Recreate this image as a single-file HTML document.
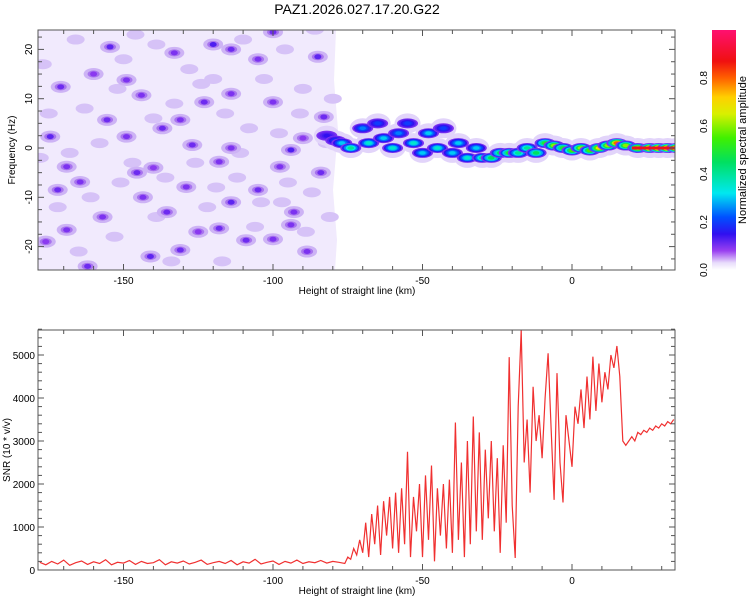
<!DOCTYPE html>
<html><head><meta charset="utf-8"><style>
body{margin:0;background:#fff;width:750px;height:600px;overflow:hidden;font-family:"Liberation Sans",sans-serif}
svg text{font-family:"Liberation Sans",sans-serif;fill:#000}
</style></head><body>
<svg id="c" width="750" height="600" xmlns="http://www.w3.org/2000/svg">
<text x="357" y="14" font-size="14" text-anchor="middle">PAZ1.2026.027.17.20.G22</text>
<defs>
<linearGradient id="cb" x1="0" y1="1" x2="0" y2="0">
<stop offset="0" stop-color="#ffffff"/><stop offset="0.03" stop-color="#e8dcfb"/><stop offset="0.08" stop-color="#9a40f0"/>
<stop offset="0.15" stop-color="#3010f0"/><stop offset="0.22" stop-color="#0050ff"/><stop offset="0.32" stop-color="#00e8f0"/>
<stop offset="0.45" stop-color="#00e060"/><stop offset="0.55" stop-color="#40f000"/><stop offset="0.65" stop-color="#d8f000"/>
<stop offset="0.72" stop-color="#ffd000"/><stop offset="0.8" stop-color="#ff6000"/><stop offset="0.87" stop-color="#f01010"/>
<stop offset="1" stop-color="#ff1070"/></linearGradient>
<clipPath id="topclip"><rect x="38" y="30" width="637" height="240"/></clipPath>
<clipPath id="botclip"><rect x="38" y="330" width="637" height="240"/></clipPath>
</defs>
<g id="topg" clip-path="url(#topclip)"></g>
<g id="botg" clip-path="url(#botclip)"></g>
<g id="axes"></g>
<rect x="712" y="30" width="24" height="240" fill="url(#cb)"/>
<text transform="translate(746,150) rotate(-90)" font-size="11" text-anchor="middle">Normalized spectral amplitude</text>
</svg>
<script>
const snrBaseX=[-178,-176,-174,-172,-170,-168,-166,-164,-162,-160,-158,-156,-154,-152,-150,-148,-146,-144,-142,-140,-138,-136,-134,-132,-130,-128,-126,-124,-122,-120,-118,-116,-114,-112,-110,-108,-106,-104,-102,-100,-98,-96,-94,-92,-90,-88,-86,-84,-82,-80,-78];
const snrBaseV=[180,120,200,140,230,110,170,210,130,190,150,240,120,180,160,220,130,200,150,170,240,120,190,160,210,140,180,230,130,170,200,150,220,120,190,160,250,140,180,210,130,200,160,230,150,190,170,220,160,200,180];
const snrStart=-76;
const snrVals=[150,300,250,500,350,700,
400,1100,300,1300,600,1500,350,1600,800,1700,
500,1800,400,1900,600,2750,300,1700,900,2000,
300,2200,700,2430,200,1900,800,2000,500,2100,
400,3430,700,2500,300,3000,600,3570,900,3200,
700,2800,1200,3000,900,2600,400,2900,1100,4950,
1500,280,3800,5580,2500,3500,1800,4260,3000,3600,
2600,4000,5040,3300,1630,4580,2500,1570,3600,3000,
2400,3800,3400,4200,3300,4500,3500,4960,3700,4800,
3900,4600,4200,5000,4700,5210,4500,3000,2900,3000,
3100,3000,3200,3150,3250,3200,3300,3250,3350,3300,
3400,3350,3450,3400,3500];
const noiseX=[-154.5,-120,-114,-85,-105,-171,-144,-123,-114,-100,-155.5,-174.5,-149,-137,-131,-127,-114,-94,-83,-169,-145.5,-118,-97.7,-84,-172,-164.5,-143.5,-129,-105,-114,-157,-135.5,-118,-94,-93,-169,-109,-100,-141,-131,-88.6,-162,-100,-149,-133,-160,-125,-90,-176,-140];
const noiseF=[20.5,21,20,18.5,18,12.4,10.7,9.3,11,9.3,5.7,2.3,2.3,4,5.7,0.6,0,-0.4,6.3,-3.8,-5,-2.8,-3.8,-5,-8.5,-6.9,-10,-7.9,-8.5,-11,-14,-13,-16.3,-15.6,-13,-16.6,-18.7,-18.5,-22,-20.7,-21,-24,23.5,13.8,19.3,15,-17,2,-19,-4];
const noiseA=[0.14,0.15,0.13,0.14,0.12,0.13,0.12,0.13,0.12,0.12,0.13,0.14,0.12,0.13,0.12,0.13,0.12,0.15,0.13,0.12,0.13,0.12,0.12,0.13,0.13,0.12,0.12,0.12,0.13,0.14,0.12,0.13,0.13,0.12,0.12,0.12,0.13,0.12,0.14,0.13,0.12,0.13,0.13,0.12,0.12,0.11,0.11,0.11,0.11,0.11];
const midX=[-177,-166,-160,-150,-146,-139,-128,-120,-110,-103,-96,-90,-86,-80,-175,-163,-152,-140,-133,-124,-116,-108,-98,-91,-82,-178,-168,-158,-147,-136,-126,-119,-111,-104,-95,-87,-172,-161,-151,-139,-122,-112,-106,-97,-89,-81,-165,-153,-134,-117];
const midF=[17,22,15,18,23,21,16,14,22,14,20,12,24,10,7,8,12,6,9,13,7,4,3,7,1,-2,-1,1,-3,-6,-3,-8,-1,-11,-7,-9,-12,-10,-7,-14,-12,-6,-16,-11,-17,-14,-21,-18,-23,-23];
const sigX=[-82,-79,-77,-74,-70,-68,-65,-63,-60,-58,-55,-53,-50,-48,-45,-43,-40,-38,-35,-32,-30,-27,-24,-21,-18,-15,-12,-9,-6,-3,0,3,6,9,12,15,18,22,26,29,32,35];
const sigF=[2.5,1.5,1,0,4,1,5,2,0,3,5,1,-1,3,0,4,-1,1,-2,0,-2,-2,-1,-1,-1,0,-1,1,0.5,0,-0.5,0,-0.5,0,0.5,1,0.5,0,0,0,0,0];
const sigA=[0.15,0.2,0.3,0.4,0.25,0.35,0.2,0.3,0.35,0.25,0.2,0.35,0.3,0.3,0.35,0.2,0.3,0.3,0.35,0.3,0.4,0.45,0.45,0.5,0.4,0.4,0.45,0.5,0.6,0.5,0.55,0.6,0.55,0.7,0.6,0.8,0.6,0.7,0.85,0.9,0.9,0.9];
const xTicks=[-150,-100,-50,0];
const fTicks=[-20,-10,0,10,20];
const snrTicks=[0,1000,2000,3000,4000,5000];
const cbTicks=[0.0,0.2,0.4,0.6,0.8];

const NS='http://www.w3.org/2000/svg';
const X0=38,X1=675;
const xs=v=>572+(v)*2.99;
const fy=f=>148-f*4.93;
const sy=v=>570-v*0.043;
const cy=a=>270-a*240;
function el(tag,attrs,parent){const e=document.createElementNS(NS,tag);for(const k in attrs)e.setAttribute(k,attrs[k]);parent.appendChild(e);return e;}
const stops=[[0,[255,255,255]],[0.03,[232,220,251]],[0.08,[154,64,240]],[0.15,[48,16,240]],[0.22,[0,80,255]],[0.32,[0,232,240]],[0.45,[0,224,96]],[0.55,[64,240,0]],[0.65,[216,240,0]],[0.72,[255,208,0]],[0.8,[255,96,0]],[0.87,[240,16,16]],[1,[255,16,112]]];
function cmap(a){for(let i=1;i<stops.length;i++){if(a<=stops[i][0]){const[t0,c0]=stops[i-1],[t1,c1]=stops[i];const t=(a-t0)/(t1-t0);return 'rgb('+c0.map((c,j)=>Math.round(c+(c1[j]-c)*t)).join(',')+')';}}return 'rgb(255,16,112)';}

const topG=document.getElementById('topg');
const bg=el('path',{d:'M38,30 L336,30 L334,80 L338,130 L333,190 L337,240 L335,270 L38,270 Z',fill:'#f1eafd'},topG);


for(let i=0;i<midX.length;i++){
  const m=el('ellipse',{cx:xs(midX[i]),cy:fy(midF[i]),rx:9,ry:5,fill:'#d6c2f7'},topG);
  
  
}
for(let i=0;i<noiseX.length;i++){
  const g=el('g',{},topG);
  
  
  el('ellipse',{cx:xs(noiseX[i]),cy:fy(noiseF[i]),rx:10,ry:6,fill:'#cdb3f5'},g);
  el('ellipse',{cx:xs(noiseX[i]),cy:fy(noiseF[i]),rx:6,ry:3.5,fill:'#a874ee'},g);
  el('ellipse',{cx:xs(noiseX[i]),cy:fy(noiseF[i]),rx:3.5,ry:2.5,fill:cmap(noiseA[i]-0.02)},g);
}
for(let i=0;i<sigX.length;i++){
  const g=el('g',{},topG);
  
  
  el('ellipse',{cx:xs(sigX[i]),cy:fy(sigF[i]),rx:13,ry:10,fill:'#e2d4fa'},g);
}
for(let i=0;i<sigX.length;i++){
  const g=el('g',{},topG);
  
  
  const a=sigA[i];const n=5;
  for(let k=0;k<n;k++){const lv=0.1+(a-0.1)*k/(n-1);const s=1-k/n;
    el('ellipse',{cx:xs(sigX[i]),cy:fy(sigF[i]),rx:9*s+1.5,ry:4*s+1,fill:cmap(lv)},g);}
}
const redLine=el('rect',{x:xs(20),y:fy(0)-1.5,width:xs(35)-xs(20),height:3,fill:'#f01020'},topG);



const botG=document.getElementById('botg');
const pts=[];
for(let i=0;i<snrBaseX.length;i++)pts.push(xs(snrBaseX[i]).toFixed(1)+','+sy(snrBaseV[i]).toFixed(1));
for(let i=0;i<snrVals.length;i++)pts.push(xs(snrStart+i).toFixed(1)+','+sy(snrVals[i]).toFixed(1));
const line=el('polyline',{points:pts.join(' '),fill:'none',stroke:'#f03030','stroke-width':1.2},botG);



const ax=document.getElementById('axes');
function frame(y0,y1,name){
  const r=el('rect',{x:X0,y:y0,width:X1-X0,height:y1-y0,fill:'none',stroke:'#555','stroke-width':1},ax);
  
  
  for(let v=-170;v<=30;v+=10){const x=xs(v);const L=(v%50===0)?6:4;
    el('line',{x1:x,y1:y1,x2:x,y2:y1-L,stroke:'#555'},ax);el('line',{x1:x,y1:y0,x2:x,y2:y0+L,stroke:'#555'},ax);}
  for(const v of xTicks){const t=el('text',{x:xs(v),y:y1+14,'font-size':10,'text-anchor':'middle'},ax);t.textContent=v;
    
    }
  const xl=el('text',{x:357,y:y1+24,'font-size':10,'text-anchor':'middle'},ax);xl.textContent='Height of straight line (km)';
  
  
}
frame(30,270,'spectrogram-frame');frame(330,570,'snr-frame');
for(let f=-25;f<=25;f+=2.5){const y=fy(f);if(y<30||y>270)continue;const L=(f%10===0)?6:4;
  el('line',{x1:X0,y1:y,x2:X0+L,y2:y,stroke:'#555'},ax);el('line',{x1:X1,y1:y,x2:X1-L,y2:y,stroke:'#555'},ax);}
for(const f of fTicks){const t=el('text',{transform:'translate('+(X0-6)+','+fy(f)+') rotate(-90)','font-size':10,'text-anchor':'middle'},ax);t.textContent=f;
  
  }
for(let v=0;v<=5600;v+=200){const y=sy(v);const L=(v%1000===0)?6:4;
  el('line',{x1:X0,y1:y,x2:X0+L,y2:y,stroke:'#555'},ax);el('line',{x1:X1,y1:y,x2:X1-L,y2:y,stroke:'#555'},ax);}
for(const v of snrTicks){const t=el('text',{x:X0-3,y:sy(v)+4,'font-size':10,'text-anchor':'end'},ax);t.textContent=v;
  
  }
const yl1=el('text',{transform:'translate(15,150) rotate(-90)','font-size':10,'text-anchor':'middle'},ax);yl1.textContent='Frequency (Hz)';


const yl2=el('text',{transform:'translate(10,450) rotate(-90)','font-size':10,'text-anchor':'middle'},ax);yl2.textContent='SNR (10 * v/v)';


for(const v of cbTicks){const y=cy(v);
  const t=el('text',{transform:'translate(707,'+y+') rotate(-90)','font-size':10,'text-anchor':'middle'},ax);t.textContent=v.toFixed(1);
  
  }
</script>
</body></html>
